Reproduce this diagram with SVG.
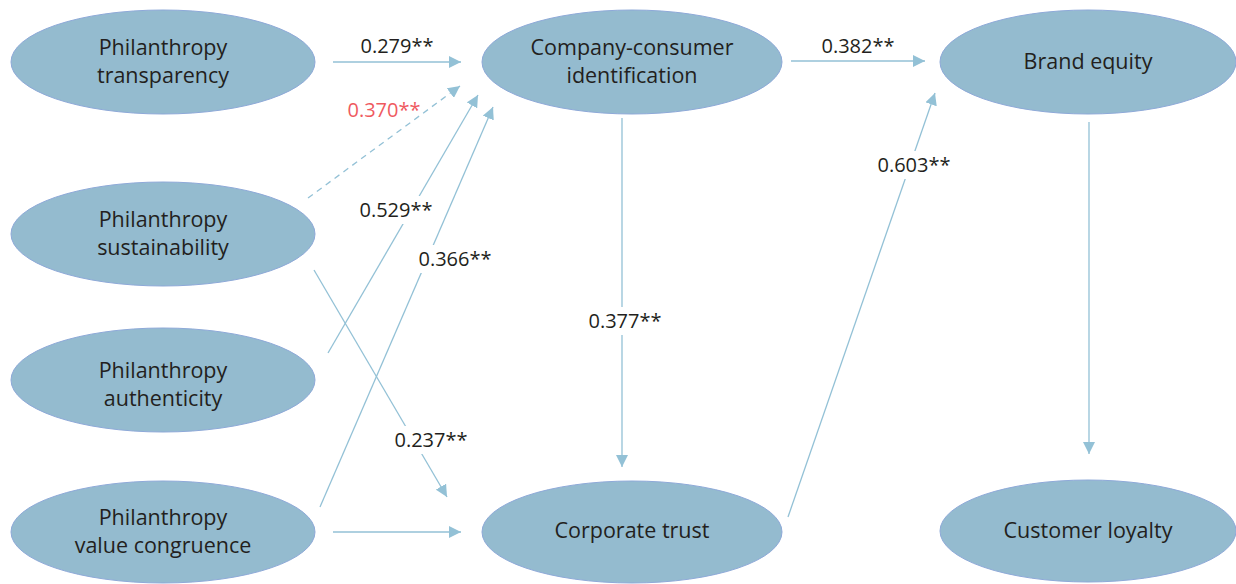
<svg xmlns="http://www.w3.org/2000/svg" width="1236" height="584" viewBox="0 0 1236 584">
  <style>
    .node ellipse { fill: #94bbcf; stroke: #8ea9d8; stroke-width: 1; }
    .node text { font-family: "Open Sans", "Liberation Sans", sans-serif; font-size: 21.5px; fill: #231f20; text-anchor: middle; }
    .edge { stroke: #93c1d6; stroke-width: 1.3; fill: none; marker-end: url(#arrow); }
    .dashed { stroke-dasharray: 6 5; }
    .label text { font-family: "Open Sans", "Liberation Sans", sans-serif; font-size: 20px; fill: #231f20; text-anchor: middle; }
    .label text.red { fill: #ef5a5f; }
    .label rect { fill: #ffffff; }
  </style>
  <defs>
    <marker id="arrow" markerUnits="userSpaceOnUse" markerWidth="12" markerHeight="12" refX="12" refY="6" orient="auto">
      <path d="M0,0 L12,6 L0,12 Z" fill="#93c1d6"/>
    </marker>
  </defs>
  <rect width="1236" height="584" fill="#ffffff"/>

  <!-- connectors -->
  <g id="connectors">
    <line class="edge" x1="333" y1="62" x2="461" y2="62"/>
    <line class="edge dashed" x1="308" y1="198" x2="460" y2="86"/>
    <line class="edge" x1="328" y1="353" x2="478" y2="95"/>
    <line class="edge" x1="320" y1="507" x2="493" y2="107"/>
    <line class="edge" x1="314" y1="270" x2="447" y2="497"/>
    <line class="edge" x1="333" y1="532" x2="461" y2="532"/>
    <line class="edge" x1="622" y1="118" x2="622" y2="467"/>
    <line class="edge" x1="791" y1="61" x2="925" y2="61"/>
    <line class="edge" x1="788" y1="517" x2="935" y2="93"/>
    <line class="edge" x1="1089" y1="122" x2="1089" y2="454"/>
  </g>

  <!-- path coefficients -->
  <g id="labels" class="label">
    <text x="397" y="53">0.279**</text>
    <text class="red" x="384" y="117">0.370**</text>
    <rect x="356" y="196" width="80" height="28"/>
    <text x="396" y="217">0.529**</text>
    <rect x="415" y="245" width="80" height="28"/>
    <text x="455" y="266">0.366**</text>
    <rect x="391" y="426" width="80" height="28"/>
    <text x="431" y="447">0.237**</text>
    <rect x="585" y="307" width="80" height="28"/>
    <text x="625" y="328">0.377**</text>
    <text x="858" y="53">0.382**</text>
    <rect x="874" y="151" width="80" height="28"/>
    <text x="914" y="172">0.603**</text>
  </g>

  <!-- constructs -->
  <g id="transparency" class="node">
    <ellipse cx="163" cy="62" rx="152" ry="52"/>
    <text x="163" y="55">Philanthropy</text>
    <text x="163" y="83">transparency</text>
  </g>
  <g id="sustainability" class="node">
    <ellipse cx="163" cy="234" rx="152" ry="52"/>
    <text x="163" y="227">Philanthropy</text>
    <text x="163" y="255">sustainability</text>
  </g>
  <g id="authenticity" class="node">
    <ellipse cx="163" cy="380" rx="152" ry="52"/>
    <text x="163" y="378">Philanthropy</text>
    <text x="163" y="406">authenticity</text>
  </g>
  <g id="value-congruence" class="node">
    <ellipse cx="163" cy="532" rx="152" ry="51"/>
    <text x="163" y="525">Philanthropy</text>
    <text x="163" y="553">value congruence</text>
  </g>
  <g id="identification" class="node">
    <ellipse cx="632" cy="62" rx="150" ry="52"/>
    <text x="632" y="55">Company-consumer</text>
    <text x="632" y="83">identification</text>
  </g>
  <g id="corporate-trust" class="node">
    <ellipse cx="632" cy="532" rx="150" ry="51"/>
    <text x="632" y="538">Corporate trust</text>
  </g>
  <g id="brand-equity" class="node">
    <ellipse cx="1088" cy="62" rx="148" ry="52"/>
    <text x="1088" y="69">Brand equity</text>
  </g>
  <g id="customer-loyalty" class="node">
    <ellipse cx="1088" cy="531" rx="148" ry="51"/>
    <text x="1088" y="538">Customer loyalty</text>
  </g>
</svg>
